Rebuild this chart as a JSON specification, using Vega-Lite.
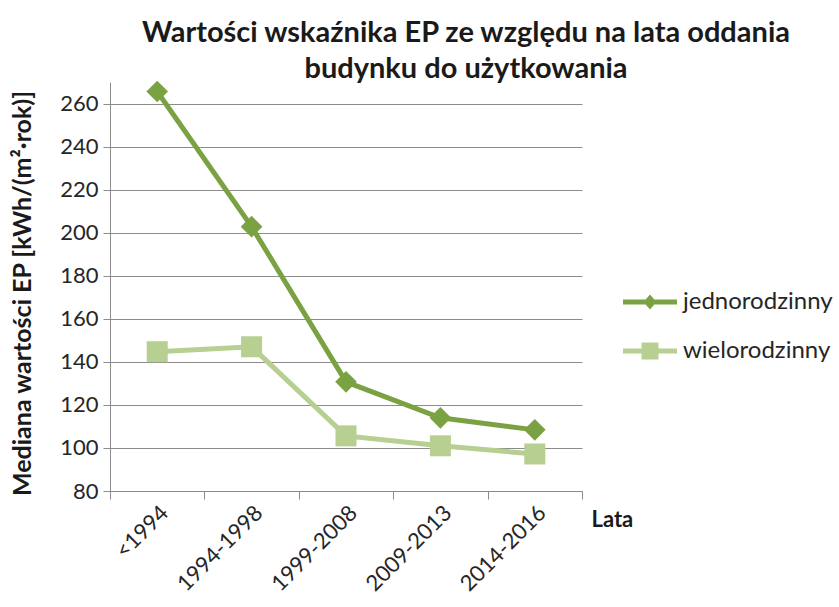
{
  "$schema": "https://vega.github.io/schema/vega-lite/v6.json",
  "width": 472,
  "height": 409,
  "autosize": {"type": "none"},
  "padding": {"left": 110, "top": 82, "right": 257, "bottom": 116},
  "background": "white",
  "config": {
    "font": "Lato",
    "view": {"stroke": null},
    "axis": {"labelFont": "Lato", "titleFont": "Lato", "labelColor": "#262626", "titleColor": "#1a1a1a"}
  },
  "title": {
    "text": ["Wartości wskaźnika EP ze względu na lata oddania", "budynku do użytkowania"],
    "fontSize": 29,
    "fontWeight": "bold",
    "font": "Lato",
    "color": "#1a1a1a",
    "lineHeight": 36,
    "anchor": "middle",
    "dx": 120,
    "offset": -3
  },
  "data": {
    "values": [
      {"lata": "<1994", "typ": "jednorodzinny", "ep": 265.6},
      {"lata": "1994-1998", "typ": "jednorodzinny", "ep": 202.8},
      {"lata": "1999-2008", "typ": "jednorodzinny", "ep": 130.7},
      {"lata": "2009-2013", "typ": "jednorodzinny", "ep": 114.0},
      {"lata": "2014-2016", "typ": "jednorodzinny", "ep": 108.4},
      {"lata": "<1994", "typ": "wielorodzinny", "ep": 144.7},
      {"lata": "1994-1998", "typ": "wielorodzinny", "ep": 147.0},
      {"lata": "1999-2008", "typ": "wielorodzinny", "ep": 105.6},
      {"lata": "2009-2013", "typ": "wielorodzinny", "ep": 101.0},
      {"lata": "2014-2016", "typ": "wielorodzinny", "ep": 97.2}
    ]
  },
  "encoding": {
    "x": {
      "field": "lata",
      "type": "ordinal",
      "sort": ["<1994", "1994-1998", "1999-2008", "2009-2013", "2014-2016"],
      "scale": {"type": "band", "paddingInner": 0, "paddingOuter": 0},
      "axis": {
        "title": "Lata",
        "titleFontSize": 22,
        "titleFontWeight": "bold",
        "titleAlign": "left",
        "titleBaseline": "middle",
        "titleX": 481,
        "titleY": 28,
        "labelAngle": -45,
        "labelAlign": "right",
        "labelBaseline": "top",
        "labelFontSize": 22,
        "labelPadding": 3,
        "tickBand": "extent",
        "tickSize": 8,
        "tickColor": "#8c8c8c",
        "domainColor": "#8c8c8c",
        "grid": false
      }
    },
    "y": {
      "field": "ep",
      "type": "quantitative",
      "scale": {"domain": [80, 270], "nice": false, "zero": false},
      "axis": {
        "title": "Mediana wartości EP [kWh/(m²·rok)]",
        "titleFontSize": 25,
        "titleFontWeight": "bold",
        "titleX": -88,
        "titleY": 211,
        "titleAlign": "center",
        "titleBaseline": "middle",
        "values": [80, 100, 120, 140, 160, 180, 200, 220, 240, 260],
        "labelFontSize": 22,
        "labelPadding": 5,
        "tickSize": 7,
        "tickColor": "#8c8c8c",
        "domainColor": "#8c8c8c",
        "grid": true,
        "gridColor": "#8c8c8c",
        "gridWidth": 1
      }
    },
    "color": {
      "field": "typ",
      "type": "nominal",
      "scale": {"domain": ["jednorodzinny", "wielorodzinny"], "range": ["#7BA242", "#B7CF91"]},
      "legend": {
        "title": null,
        "orient": "none",
        "legendX": 522,
        "legendY": 202,
        "padding": 0,
        "symbolSize": 1296,
        "symbolStrokeWidth": 0,
        "symbolOpacity": 1,
        "labelFontSize": 24,
        "labelFont": "Lato",
        "labelColor": "#262626",
        "labelOffset": 15,
        "rowPadding": 19,
        "encode": {
          "symbols": {
            "update": {
              "shape": {"signal": "datum.value === 'jednorodzinny' ? 'M-1.5,-0.14L-0.24,-0.14L0,-0.42L0.24,-0.14L1.5,-0.14L1.5,0.14L0.24,0.14L0,0.42L-0.24,0.14L-1.5,0.14Z' : 'M-1.5,-0.14L-0.47,-0.14L-0.47,-0.47L0.47,-0.47L0.47,-0.14L1.5,-0.14L1.5,0.14L0.47,0.14L0.47,0.47L-0.47,0.47L-0.47,0.14L-1.5,0.14Z'"},
              "fill": {"signal": "scale('color', datum.value)"},
              "strokeWidth": {"value": 0},
              "opacity": {"value": 1}
            }
          }
        }
      }
    }
  },
  "layer": [
    {
      "mark": {"type": "line", "strokeWidth": 5}
    },
    {
      "transform": [{"filter": "datum.typ === 'jednorodzinny'"}],
      "mark": {"type": "point", "filled": true, "opacity": 1, "size": 470, "shape": "diamond"}
    },
    {
      "transform": [{"filter": "datum.typ === 'wielorodzinny'"}],
      "mark": {"type": "point", "filled": true, "opacity": 1, "size": 441, "shape": "square"}
    }
  ]
}
